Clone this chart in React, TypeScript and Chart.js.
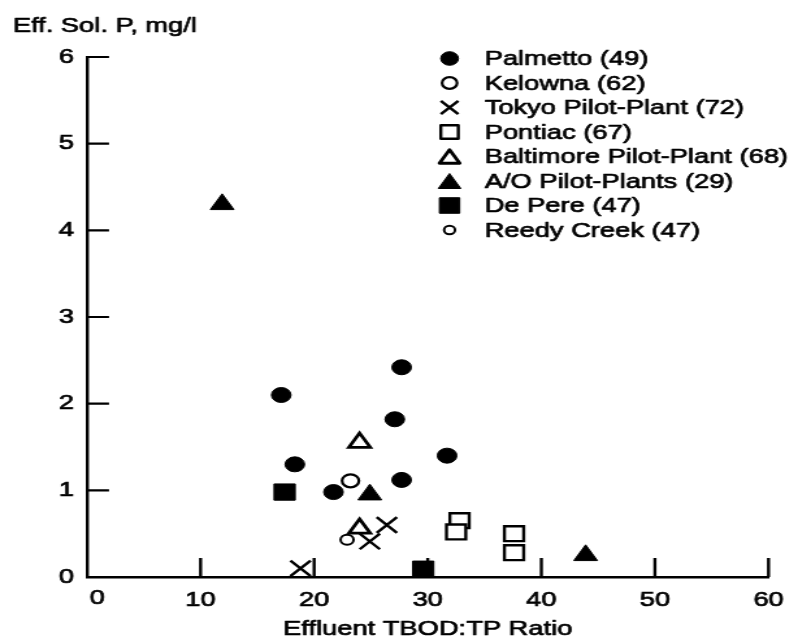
import React, { useEffect, useRef } from 'react';
import { Chart, registerables } from 'chart.js';

Chart.register(...registerables);

// ---- data ----
const xTickValues = [0, 10, 20, 30, 40, 50, 60];
const yTickValues = [0, 1, 2, 3, 4, 5, 6];
const yAxisTitle = 'Eff. Sol. P, mg/l';
const xAxisTitle = 'Effluent TBOD:TP Ratio';
const seriesLabels = [
  'Palmetto (49)',
  'Kelowna (62)',
  'Tokyo Pilot-Plant (72)',
  'Pontiac (67)',
  'Baltimore Pilot-Plant (68)',
  'A/O Pilot-Plants (29)',
  'De Pere (47)',
  'Reedy Creek (47)',
];

const palmettoX = [17.1, 18.3, 21.7, 27.7, 27.1, 27.7, 31.7];
const palmettoY = [2.1, 1.3, 0.98, 2.42, 1.82, 1.12, 1.4];
const kelownaX = [23.2];
const kelownaY = [1.11];
const tokyoX = [18.8, 24.9, 26.4];
const tokyoY = [0.1, 0.41, 0.6];
const pontiacX = [32.8, 32.5, 37.6, 37.6];
const pontiacY = [0.65, 0.52, 0.5, 0.28];
const baltimoreX = [24.0, 24.0];
const baltimoreY = [1.55, 0.56];
const aoX = [11.9, 24.9, 43.9];
const aoY = [4.3, 0.95, 0.25];
const dePereX = [17.4, 29.6];
const dePereY = [0.98, 0.09];
const reedyX = [22.9];
const reedyY = [0.43];

// ---- styles ----
const FONT = '"Liberation Sans", Arial, Helvetica, sans-serif';
const FONT_SIZE = 21;
const TEXT_STROKE = 0.7;
const W = 798;
const H = 641;
const STRETCH = 1.3;
const CW = Math.round(W / STRETCH);

const seriesDefs = [
  { xs: palmettoX, ys: palmettoY, style: 'circle', r: 7.5, fill: true, bw: 1, lr: 6.8, order: 3 },
  { xs: kelownaX, ys: kelownaY, style: 'circle', r: 6.5, fill: false, bw: 2.2, lr: 5.8, order: 1 },
  { xs: tokyoX, ys: tokyoY, style: 'crossRot', r: 11, fill: false, bw: 2.4, lr: 9.5, order: 2 },
  { xs: pontiacX, ys: pontiacY, style: 'rect', r: 10.5, fill: false, bw: 2.4, lr: 9.5, order: 2 },
  { xs: baltimoreX, ys: baltimoreY, style: 'triangle', r: 9.5, fill: false, bw: 2.8, lr: 9, order: 1 },
  { xs: aoX, ys: aoY, style: 'triangle', r: 10.5, fill: true, bw: 1, lr: 10, order: 3 },
  { xs: dePereX, ys: dePereY, style: 'rect', r: 11.5, fill: true, bw: 1, lr: 11, order: 3 },
  { xs: reedyX, ys: reedyY, style: 'circle', r: 5, fill: false, bw: 2, lr: 4.2, order: 1 },
];

function drawMarker(ctx: CanvasRenderingContext2D, style: string, x: number, y: number, r: number, fill: boolean, bw: number) {
  ctx.save();
  ctx.lineWidth = bw;
  ctx.strokeStyle = '#000';
  ctx.fillStyle = fill ? '#000' : '#fff';
  ctx.beginPath();
  if (style === 'circle') {
    ctx.arc(x, y, r, 0, Math.PI * 2);
    ctx.closePath();
  } else if (style === 'rect') {
    const s = r * Math.SQRT1_2;
    ctx.rect(x - s, y - s, 2 * s, 2 * s);
  } else if (style === 'triangle') {
    const yy = y + r * 0.25;
    ctx.moveTo(x, yy - r);
    ctx.lineTo(x + r * Math.sin((2 * Math.PI) / 3), yy - r * Math.cos((2 * Math.PI) / 3));
    ctx.lineTo(x + r * Math.sin((4 * Math.PI) / 3), yy - r * Math.cos((4 * Math.PI) / 3));
    ctx.closePath();
  } else if (style === 'crossRot') {
    const o = r * Math.SQRT1_2;
    ctx.moveTo(x - o, y - o);
    ctx.lineTo(x + o, y + o);
    ctx.moveTo(x + o, y - o);
    ctx.lineTo(x - o, y + o);
  }
  if (style !== 'crossRot') ctx.fill();
  ctx.stroke();
  ctx.restore();
}

function heavyText(ctx: CanvasRenderingContext2D, text: string, x: number, y: number) {
  ctx.lineWidth = TEXT_STROKE;
  ctx.strokeStyle = '#000';
  ctx.lineJoin = 'round';
  ctx.strokeText(text, x, y);
  ctx.fillStyle = '#000';
  ctx.fillText(text, x, y);
}

const customPlugin = {
  id: 'customDecor',
  beforeDatasetsDraw(chart: any) {
    const { ctx, chartArea, scales } = chart;
    const xs = scales.x;
    const ys = scales.y;
    ctx.save();
    ctx.strokeStyle = '#000';
    ctx.lineCap = 'butt';
    ctx.lineWidth = 2.4;
    ctx.beginPath();
    xTickValues.forEach((v) => {
      if (v === 0) return;
      const px = xs.getPixelForValue(v);
      ctx.moveTo(px, chartArea.bottom);
      ctx.lineTo(px, chartArea.bottom - 19);
    });
    ctx.stroke();
    ctx.lineWidth = 2.2;
    ctx.beginPath();
    yTickValues.forEach((v) => {
      if (v === 0) return;
      const py = ys.getPixelForValue(v);
      ctx.moveTo(chartArea.left, py);
      ctx.lineTo(chartArea.left + 17, py);
    });
    ctx.stroke();
    ctx.restore();
  },
  afterDraw(chart: any) {
    const { ctx, chartArea, scales } = chart;
    ctx.save();
    ctx.font = `${FONT_SIZE}px ${FONT}`;
    ctx.textBaseline = 'middle';
    ctx.textAlign = 'left';
    // y-axis title (top-left, horizontal)
    heavyText(ctx, yAxisTitle, chartArea.left - 57, chartArea.top - 31);
    // "0" label of x axis, set slightly right of the origin as in the original
    ctx.textAlign = 'center';
    ctx.textBaseline = 'top';
    heavyText(ctx, String(xTickValues[0]), scales.x.getPixelForValue(xTickValues[0]) + 8, chartArea.bottom + 11);
    // x-axis title
    ctx.textBaseline = 'middle';
    heavyText(ctx, xAxisTitle, (chartArea.left + chartArea.right) / 2, chart.height - 12);
    // legend
    ctx.textAlign = 'left';
    const mx = chartArea.left + 279;
    const tx = chartArea.left + 306;
    seriesDefs.forEach((s, i) => {
      const yy = chartArea.top + 1.5 + 24.5 * i;
      drawMarker(ctx, s.style, mx, yy, s.lr, s.fill, s.bw);
      heavyText(ctx, seriesLabels[i], tx, yy + 1);
    });
    ctx.restore();
  },
};

export default function App() {
  const ref = useRef<HTMLCanvasElement | null>(null);

  useEffect(() => {
    if (!ref.current) return;
    const datasets = seriesDefs.map((s, i) => ({
      label: seriesLabels[i],
      data: s.xs.map((x, j) => ({ x, y: s.ys[j] })),
      pointStyle: s.style,
      pointRadius: s.r,
      pointHoverRadius: s.r,
      pointBackgroundColor: s.fill ? '#000' : '#fff',
      pointBorderColor: '#000',
      pointBorderWidth: s.bw,
      showLine: false,
      order: s.order,
    }));
    const tickFont = { family: FONT, size: FONT_SIZE };
    const chart = new Chart(ref.current, {
      type: 'scatter',
      data: { datasets },
      options: {
        animation: false,
        responsive: false,
        devicePixelRatio: 1,
        events: [],
        layout: { padding: { left: 66.9 - 50, right: CW - 594.6, top: 57, bottom: 0 } },
        plugins: {
          legend: { display: false },
          tooltip: { enabled: false },
          title: { display: false },
        },
        scales: {
          x: {
            type: 'linear',
            min: 0,
            max: 60,
            afterBuildTicks: (scale: any) => {
              scale.ticks = xTickValues.map((v) => ({ value: v }));
            },
            afterFit: (scale: any) => {
              scale.height = 64;
            },
            ticks: {
              font: tickFont,
              color: '#000',
              padding: 11,
              maxRotation: 0,
              autoSkip: false,
              textStrokeColor: '#000',
              textStrokeWidth: TEXT_STROKE,
              callback: (v: any) => (v === xTickValues[0] ? '' : String(v)),
            },
            grid: { display: false, drawTicks: false },
            border: { display: true, color: '#000', width: 2.6 },
            title: { display: false },
          },
          y: {
            type: 'linear',
            min: 0,
            max: 6,
            afterBuildTicks: (scale: any) => {
              scale.ticks = yTickValues.map((v) => ({ value: v }));
            },
            afterFit: (scale: any) => {
              scale.width = 50;
            },
            ticks: {
              font: tickFont,
              color: '#000',
              padding: 10,
              autoSkip: false,
              textStrokeColor: '#000',
              textStrokeWidth: TEXT_STROKE,
            },
            grid: { display: false, drawTicks: false },
            border: { display: true, color: '#000', width: 2.4 },
          },
        },
      },
      plugins: [customPlugin],
    } as any);
    return () => chart.destroy();
  }, []);

  return (
    <div style={{ position: 'absolute', left: 0, top: 0, width: W, height: H, background: '#fff' }}>
      <canvas
        ref={ref}
        width={CW}
        height={H}
        style={{ width: `${W}px`, height: `${H}px`, display: 'block' }}
      />
    </div>
  );
}
